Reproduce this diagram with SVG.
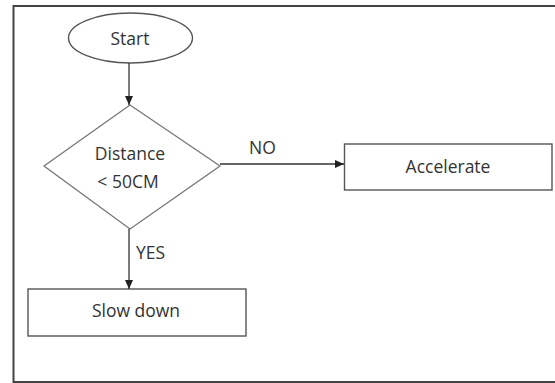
<svg xmlns="http://www.w3.org/2000/svg" width="555" height="383" viewBox="0 0 555 383">
<defs>
<style>
.frame{fill:none;stroke:#444;stroke-width:2}
.shape{fill:#fff;stroke:#555;stroke-width:1.4}
.dia{fill:#fff;stroke:#777;stroke-width:1.3}
.conn{fill:none;stroke:#333;stroke-width:1.3}
text{font-family:"Open Sans","Liberation Sans",sans-serif;font-size:17.5px;fill:#333}
.c{text-anchor:middle}
</style>
<marker id="arr" markerWidth="10" markerHeight="10" refX="9" refY="5" orient="auto" markerUnits="userSpaceOnUse">
<path d="M0,1 L9,5 L0,9 Z" fill="#222"/>
</marker>
</defs>
<rect width="555" height="383" fill="#fff"/>
<rect class="frame" x="13.5" y="6" width="560" height="376"/>
<g id="start">
<ellipse class="shape" cx="130.5" cy="38" rx="62" ry="25"/>
<text class="c" x="130" y="45">Start</text>
</g>
<g id="decision">
<polygon class="dia" points="130,105 220,166 130,229 44,166"/>
<text class="c" x="130" y="160">Distance</text>
<text class="c" x="128" y="188">&lt; 50CM</text>
</g>
<g id="accelerate">
<rect class="shape" x="344.5" y="144" width="207.5" height="46"/>
<text class="c" x="448" y="173">Accelerate</text>
</g>
<g id="slowdown">
<rect class="shape" x="28" y="289" width="218" height="47"/>
<text class="c" x="136" y="317">Slow down</text>
</g>
<g id="connectors">
<line class="conn" x1="129" y1="63" x2="129" y2="105" marker-end="url(#arr)"/>
<line class="conn" x1="220" y1="164" x2="344" y2="164" marker-end="url(#arr)"/>
<line class="conn" x1="129" y1="229" x2="129" y2="289" marker-end="url(#arr)"/>
<text x="249" y="154">NO</text>
<text x="136" y="259">YES</text>
</g>
</svg>
